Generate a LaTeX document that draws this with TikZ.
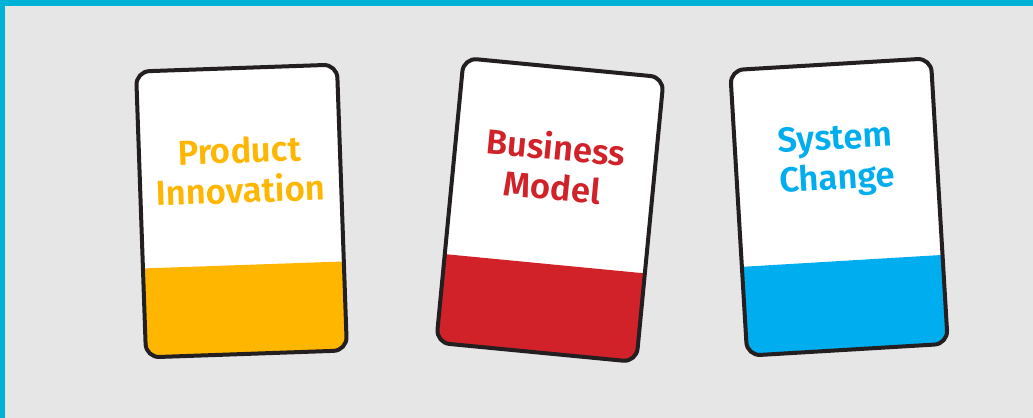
\documentclass[tikz,border=0pt]{standalone}
\usepackage{fontspec}
\setmainfont{Fira Sans}[BoldFont={Fira Sans SemiBold}]
\definecolor{bgGray}{RGB}{230,230,230}
\definecolor{frameCyan}{RGB}{0,178,214}
\definecolor{cardYellow}{RGB}{255,182,0}
\definecolor{cardRed}{RGB}{209,34,42}
\definecolor{cardBlue}{RGB}{0,173,239}
\definecolor{cardEdge}{RGB}{35,31,32}
\begin{document}
\begin{tikzpicture}[x=0.75pt,y=0.75pt,
  card outline/.style={draw=cardEdge,line width=3pt,rounded corners=10pt},
  card face/.style={fill=white,rounded corners=10pt},
  card text/.style={font=\bfseries\fontsize{26}{30}\selectfont,align=center,transform shape,inner sep=0pt}]
%set diagram to 1033 x 418
\useasboundingbox (0,0) rectangle (1033,418);

%Shape: Background
\fill [bgGray] (0,0) rectangle (1033,418);
%Shape: Top and left frame
\fill [frameCyan] (0,412) rectangle (1033,418);
\fill [frameCyan] (0,0) rectangle (5,418);

%Shape: Card 1
\begin{scope}[shift={(241.5,207)},rotate=2]
\fill [card face] (-100.5,-143) rectangle (100.5,143);
\begin{scope}
\clip [rounded corners=10pt] (-100.5,-143) rectangle (100.5,143);
\fill [cardYellow] (-100.5,-143) rectangle (100.5,-54);
\end{scope}
\draw [card outline] (-100.5,-143) rectangle (100.5,143);
% Text Node
\node [card text,text=cardYellow] (product) at (0,41) {Product\\Innovation};
\end{scope}

%Shape: Card 2
\begin{scope}[shift={(550,208)},rotate=-5.5]
\fill [card face] (-100.5,-143) rectangle (100.5,143);
\begin{scope}
\clip [rounded corners=10pt] (-100.5,-143) rectangle (100.5,143);
\fill [cardRed] (-100.5,-143) rectangle (100.5,-54);
\end{scope}
\draw [card outline] (-100.5,-143) rectangle (100.5,143);
% Text Node
\node [card text,text=cardRed] (business) at (0,44) {Business\\Model};
\end{scope}

%Shape: Card 3
\begin{scope}[shift={(839,211)},rotate=3.4]
\fill [card face] (-100.5,-143) rectangle (100.5,143);
\begin{scope}
\clip [rounded corners=10pt] (-100.5,-143) rectangle (100.5,143);
\fill [cardBlue] (-100.5,-143) rectangle (100.5,-54);
\end{scope}
\draw [card outline] (-100.5,-143) rectangle (100.5,143);
% Text Node
\node [card text,text=cardBlue] (system) at (0,46) {System\\Change};
\end{scope}

\end{tikzpicture}
\end{document}
